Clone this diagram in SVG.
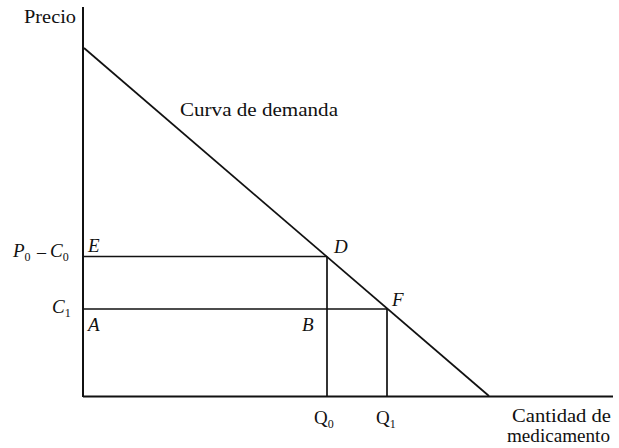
<svg xmlns="http://www.w3.org/2000/svg" width="619" height="448" viewBox="0 0 619 448">
<style>
text{font-family:"Liberation Serif","Times New Roman",serif;fill:#111}
.lbl{font-size:18px}
.it{font-style:italic;font-size:19px}
.q{font-size:19px}
.sub{font-size:12px}
.ln{stroke:#111;stroke-width:1.7;fill:none}
.ax{stroke:#111;stroke-width:2;fill:none}
</style>
<rect width="619" height="448" fill="#ffffff"/>
<g id="connectors">
<line class="ax" x1="83" y1="7" x2="83" y2="397"/>
<line class="ax" x1="83" y1="396.5" x2="613" y2="396.5"/>
<line class="ln" x1="84" y1="48" x2="489" y2="396"/>
<line class="ln" x1="83" y1="256.5" x2="327" y2="256.5"/>
<line class="ln" x1="83" y1="309" x2="387" y2="309"/>
<line class="ln" x1="327" y1="256.5" x2="327" y2="396"/>
<line class="ln" x1="387" y1="309" x2="387" y2="396"/>
</g>
<g id="axis-labels">
<text class="lbl" x="24" y="23" textLength="52" lengthAdjust="spacingAndGlyphs">Precio</text>
<text class="lbl" x="512" y="422" textLength="99" lengthAdjust="spacingAndGlyphs">Cantidad de</text>
<text class="lbl" x="507" y="442" textLength="103" lengthAdjust="spacingAndGlyphs">medicamento</text>
</g>
<g id="curve-label">
<text class="lbl" x="180" y="116" textLength="158" lengthAdjust="spacingAndGlyphs">Curva de demanda</text>
</g>
<g id="price-labels">
<text class="it" x="13" y="257">P<tspan class="sub" dy="4" font-style="normal">0</tspan></text>
<text class="lbl" x="37" y="258">–</text>
<text class="it" x="50" y="257">C<tspan class="sub" dy="4" font-style="normal">0</tspan></text>
<text class="it" x="52" y="313">C<tspan class="sub" dy="4" font-style="normal">1</tspan></text>
</g>
<g id="point-labels">
<text class="it" x="88" y="252">E</text>
<text class="it" x="88" y="331">A</text>
<text class="it" x="334" y="253">D</text>
<text class="it" x="392" y="306">F</text>
<text class="it" x="302" y="331">B</text>
</g>
<g id="quantity-labels">
<text class="q" x="314" y="424">Q<tspan class="sub" dy="4">0</tspan></text>
<text class="q" x="376" y="424">Q<tspan class="sub" dy="4">1</tspan></text>
</g>
</svg>
